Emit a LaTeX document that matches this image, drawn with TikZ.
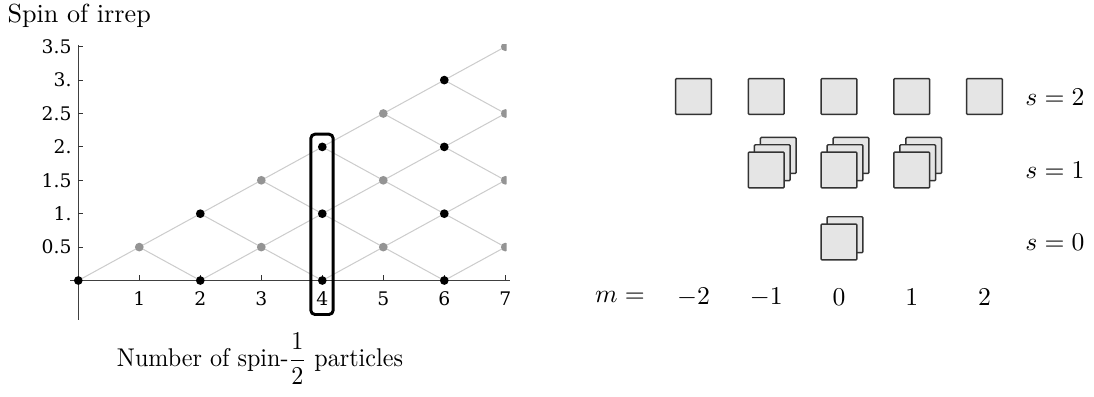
\documentclass[tikz,border=0pt]{standalone}
\usepackage{fontspec}
\newfontfamily\tickfont{DejaVu Serif}
\usetikzlibrary{backgrounds}
\begin{document}
\begin{tikzpicture}[x=0.39pt,y=-0.39pt,
  dotb/.style={circle,fill=black,inner sep=0pt,minimum size=3.4pt},
  dotg/.style={circle,fill=black!42,inner sep=0pt,minimum size=3.4pt},
  lat/.style={black!20,line width=0.4pt},
  axis/.style={line width=0.45pt,black!75},
  tickmark/.style={line width=0.4pt,black!80},
  ticklab/.style={font=\tickfont\fontsize{7.3}{8.5}\selectfont,inner sep=0pt},
  sq/.style={draw=black!80,fill=black!10,line width=0.55pt,rounded corners=0.4pt,minimum size=14pt,inner sep=0pt},
  mathlab/.style={font=\fontsize{10}{12}\selectfont,inner sep=0pt},
  axlab/.style={font=\fontsize{10.2}{12}\selectfont,inner sep=0pt},
  xaxlab/.style={font=\fontsize{10}{12}\selectfont,inner sep=0pt},
  selbox/.style={draw=black,line width=1.15pt,rounded corners=1.6pt,minimum width=8.7pt,minimum height=70.3pt,inner sep=0pt}
]
\useasboundingbox (0,0) rectangle (1094,397);

% axis labels
\node[axlab,anchor=base west] (ylab) at (7,23) {Spin of irrep};
\node[xaxlab,anchor=base] (xlab) at (260,367) {\scalebox{0.94}[1]{Number of spin-$\displaystyle\frac{1}{2}$ particles}};

% axes
\draw[axis] (70,280.5) -- (510,280.5);
\draw[axis] (78.3,45) -- (78.3,320);
\foreach \i in {1,...,7} {
  \draw[tickmark] (78.3+61*\i,280.5) -- ++(0,-5);
  \node[ticklab] (xt\i) at (78.3+61*\i,298.5) {\i};
}
\foreach \j/\t in {1/0.5,2/1.,3/1.5,4/2.,5/2.5,6/3.,7/3.5} {
  \draw[tickmark] (78.3,280.5-33.4*\j) -- ++(5,0);
  \node[ticklab,anchor=east] (yt\j) at (72,280.5-33.4*\j) {\t};
}

% lattice points
\begin{scope}
\clip (0,45) rectangle (506.5,397);
\foreach \n in {0,...,7} {
  \foreach \k in {0,...,\n} {
    \ifodd\numexpr\n+\k\relax\else
      \ifodd\n
        \node[dotg] (p\n-\k) at (78.3+61*\n,280.5-33.4*\k) {};
      \else
        \node[dotb] (p\n-\k) at (78.3+61*\n,280.5-33.4*\k) {};
      \fi
    \fi
  }
}
\end{scope}

% lattice lines
\begin{pgfonlayer}{background}
\foreach \n in {0,...,6} {
  \pgfmathtruncatemacro{\m}{\n+1}
  \foreach \k in {0,...,\n} {
    \ifodd\numexpr\n+\k\relax\else
      \pgfmathtruncatemacro{\ku}{\k+1}
      \draw[lat] (p\n-\k.center) -- (p\m-\ku.center);
      \ifnum\k>0
        \pgfmathtruncatemacro{\kd}{\k-1}
        \draw[lat] (p\n-\k.center) -- (p\m-\kd.center);
      \fi
    \fi
  }
}
\end{pgfonlayer}

% selection box
\node[selbox] (sel) at (322,224.35) {};

% right side: multiplets
\foreach \i/\x in {m2/693.5,m1/766.25,z/839,p1/911.75,p2/984.5} {
  \node[sq] (a\i) at (\x,96.5) {};
}
\foreach \i/\x in {m1/766.25,z/839,p1/911.75} {
  \node[sq] (b\i-3) at (\x+12,170-14.6) {};
  \node[sq] (b\i-2) at (\x+6,170-7.3) {};
  \node[sq] (b\i-1) at (\x,170) {};
}
\node[sq] (c-2) at (845,242-7.3) {};
\node[sq] (c-1) at (839,242) {};

% labels
\node[mathlab] (s2) at (1055,97) {$s=2$};
\node[mathlab] (s1) at (1055,170) {$s=1$};
\node[mathlab] (s0) at (1055,242) {$s=0$};
\node[mathlab] (mlab) at (620,297) {$m=$};
\node[mathlab] (lm2) at (693.5,297) {$-2$};
\node[mathlab] (lm1) at (766.25,297) {$-1$};
\node[mathlab] (lz) at (839,297) {$0$};
\node[mathlab] (lp1) at (911.75,297) {$1$};
\node[mathlab] (lp2) at (984.5,297) {$2$};
\end{tikzpicture}
\end{document}
